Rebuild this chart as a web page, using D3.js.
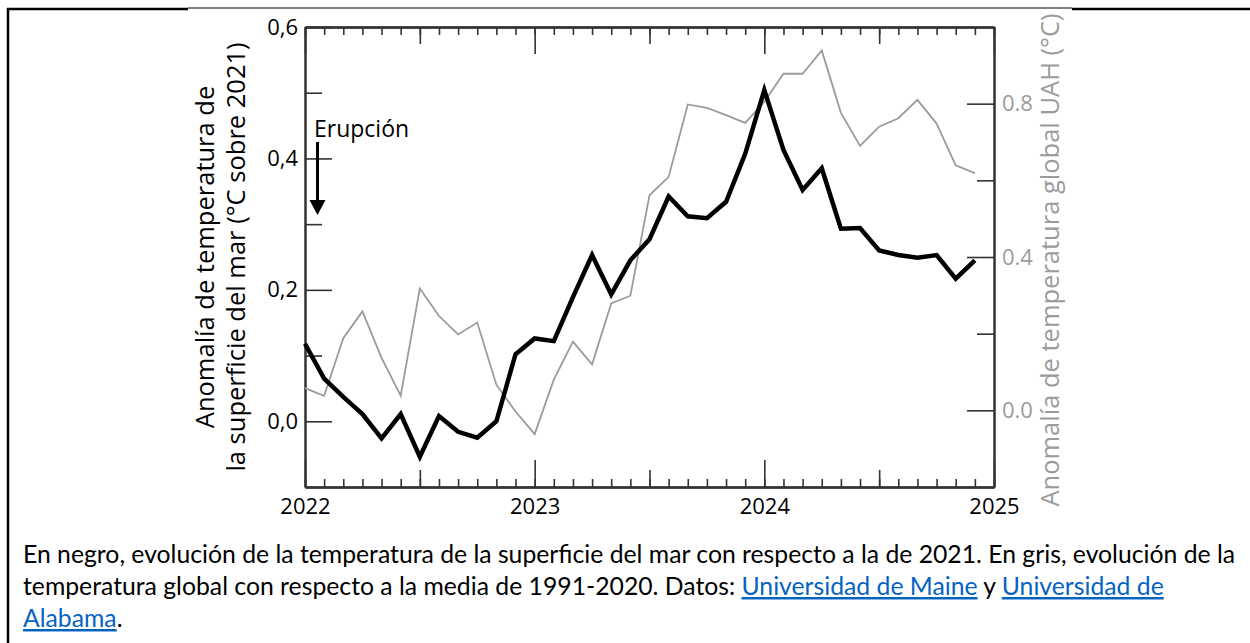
<!DOCTYPE html>
<html><head><meta charset="utf-8">
<script src="https://cdn.jsdelivr.net/npm/d3@7"></script>
<style>
html,body{margin:0;padding:0;background:#fff;}
svg{display:block;}
</style>
</head><body>
<svg id="chart" width="1250" height="643"></svg>
<script>
// ---- data ----
const months = ["2022-01","2022-02","2022-03","2022-04","2022-05","2022-06","2022-07","2022-08","2022-09","2022-10","2022-11","2022-12",
"2023-01","2023-02","2023-03","2023-04","2023-05","2023-06","2023-07","2023-08","2023-09","2023-10","2023-11","2023-12",
"2024-01","2024-02","2024-03","2024-04","2024-05","2024-06","2024-07","2024-08","2024-09","2024-10","2024-11","2024-12"];
const seaSurfaceAnomaly = [0.118,0.065,0.037,0.011,-0.026,0.011,-0.054,0.008,-0.016,-0.025,0.000,0.102,
0.126,0.122,0.189,0.253,0.193,0.245,0.277,0.342,0.312,0.309,0.334,0.407,
0.504,0.413,0.352,0.385,0.293,0.294,0.260,0.253,0.249,0.253,0.217,0.245];
const uahGlobalAnomaly = [0.058,0.038,0.188,0.258,0.137,0.038,0.318,0.246,0.198,0.229,0.067,-0.003,
-0.062,0.080,0.179,0.120,0.279,0.299,0.561,0.609,0.798,0.789,0.770,0.750,
0.805,0.878,0.878,0.939,0.776,0.690,0.740,0.762,0.810,0.748,0.639,0.619];
const yearTicks = [2022, 2023, 2024, 2025];
const leftMajorTicks = [0.0, 0.2, 0.4, 0.6];
const leftMinorTicks = [0.1, 0.3, 0.5];
const rightMajorTicks = [0.0, 0.4, 0.8];
const rightMinorTicks = [0.2, 0.6];
const eruptionLabel = "Erupción";
const leftTitle = ["Anomalía de temperatura de", "la superficie del mar (°C sobre 2021)"];
const rightTitle = "Anomalía de temperatura global UAH (°C)";
const captionLines = [
  [{t:"En negro, evolución de la temperatura de la superficie del mar con respecto a la de 2021. En gris, evolución de la"}],
  [{t:"temperatura global con respecto a la media de 1991-2020. Datos: "},{t:"Universidad de Maine",link:true},{t:" y "},{t:"Universidad de",link:true}],
  [{t:"Alabama",link:true},{t:"."}]
];

// ---- layout ----
const svg = d3.select("#chart");
const X0 = 305, X1 = 994, Y0 = 27, Y1 = 487;
const AX = "#333";
const GRAY = "#9b9b9b";
const chartFont = "'Open Sans', 'Noto Sans', sans-serif";

const toYear = s => { const [y,m] = s.split("-").map(Number); return y + (m-1)/12; };
const x = d3.scaleLinear().domain([2022, 2025]).range([X0, X1]);
const yL = d3.scaleLinear().domain([-0.1, 0.6]).range([Y1, Y0]);
const yR = d3.scaleLinear().domain([-0.2, 1.0]).range([Y1, Y0]);

// outer frame
svg.append("line").attr("x1",8).attr("x2",8).attr("y1",8).attr("y2",643).attr("stroke","#000").attr("stroke-width",2.5);
svg.append("line").attr("x1",7).attr("x2",188).attr("y1",9).attr("y2",9).attr("stroke","#000").attr("stroke-width",2.5);
svg.append("line").attr("x1",188).attr("x2",1072).attr("y1",8).attr("y2",8).attr("stroke","#000").attr("stroke-width",1.2);
svg.append("line").attr("x1",1072).attr("x2",1250).attr("y1",9).attr("y2",9).attr("stroke","#000").attr("stroke-width",2.5);

// month tick values
const monthTicks = d3.range(0, 37).map(i => 2022 + i/12);
const halfTicks = monthTicks.filter((v,i) => i % 12 === 6);

function styleAxis(g){
  g.selectAll("path.domain").attr("stroke", AX).attr("stroke-width", 2);
  g.selectAll(".tick line").attr("stroke", AX).attr("stroke-width", 1.6);
  g.selectAll("text").attr("font-family", chartFont).attr("font-size", 22).attr("fill", "#000");
}

// bottom axis
const gb = svg.append("g").attr("transform", `translate(0,${Y1})`);
gb.append("g").call(d3.axisBottom(x).tickValues(monthTicks).tickSize(-8).tickSizeOuter(0).tickFormat("")).call(styleAxis);
gb.append("g").call(d3.axisBottom(x).tickValues(halfTicks).tickSize(-17).tickSizeOuter(0).tickFormat("")).call(styleAxis);
gb.append("g").call(d3.axisBottom(x).tickValues(yearTicks).tickSize(-27).tickSizeOuter(0).tickPadding(11).tickFormat(d3.format("d"))).call(styleAxis);

// top axis
const gt = svg.append("g").attr("transform", `translate(0,${Y0})`);
gt.append("g").call(d3.axisTop(x).tickValues(monthTicks).tickSize(-8).tickSizeOuter(0).tickFormat("")).call(styleAxis);
gt.append("g").call(d3.axisTop(x).tickValues(halfTicks).tickSize(-17).tickSizeOuter(0).tickFormat("")).call(styleAxis);
gt.append("g").call(d3.axisTop(x).tickValues(yearTicks).tickSize(-27).tickSizeOuter(0).tickFormat("")).call(styleAxis);

// left axis
const commaFmt = v => d3.format(".1f")(v).replace(".", ",");
const gl = svg.append("g").attr("transform", `translate(${X0},0)`);
gl.append("g").call(d3.axisLeft(yL).tickValues(leftMinorTicks).tickSize(-17).tickSizeOuter(0).tickFormat("")).call(styleAxis);
gl.append("g").call(d3.axisLeft(yL).tickValues(leftMajorTicks).tickSize(-27).tickSizeOuter(0).tickPadding(7).tickFormat(commaFmt)).call(styleAxis);

// right axis
const gr = svg.append("g").attr("transform", `translate(${X1},0)`);
gr.append("g").call(d3.axisRight(yR).tickValues(rightMinorTicks).tickSize(-17).tickSizeOuter(0).tickFormat("")).call(styleAxis);
gr.append("g").call(d3.axisRight(yR).tickValues(rightMajorTicks).tickSize(-27).tickSizeOuter(0).tickPadding(8).tickFormat(d3.format(".1f"))).call(styleAxis);
gr.selectAll("text").attr("fill", GRAY);

// lines
const lineR = d3.line().x((d,i) => x(toYear(months[i]))).y(d => yR(d));
const lineL = d3.line().x((d,i) => x(toYear(months[i]))).y(d => yL(d));
svg.append("path").datum(uahGlobalAnomaly).attr("d", lineR).attr("fill","none").attr("stroke", GRAY).attr("stroke-width", 1.8).attr("stroke-linejoin","miter");
svg.append("path").datum(seaSurfaceAnomaly).attr("d", lineL).attr("fill","none").attr("stroke", "#000").attr("stroke-width", 4.5).attr("stroke-linejoin","miter");

// eruption annotation
svg.append("text").attr("x", 314).attr("y", 137).attr("font-family", chartFont).attr("font-size", 23).text(eruptionLabel);
svg.append("line").attr("x1", 317.5).attr("x2", 317.5).attr("y1", 142).attr("y2", 203).attr("stroke","#000").attr("stroke-width", 3);
svg.append("path").attr("d", "M309.5,200 L325.5,200 L317.5,215 Z").attr("fill","#000");

// axis titles
const lt = svg.append("text").attr("transform", `translate(214,${(Y0+Y1)/2}) rotate(-90)`)
  .attr("text-anchor","middle").attr("font-family", chartFont).attr("font-size", 25.5).attr("fill","#000");
lt.append("tspan").attr("x",0).attr("y",0).text(leftTitle[0]);
lt.append("tspan").attr("x",0).attr("y",31).text(leftTitle[1]);
svg.append("text").attr("transform", `translate(1059,${260}) rotate(-90)`)
  .attr("text-anchor","middle").attr("font-family", chartFont).attr("font-size", 25.5).attr("fill", GRAY).text(rightTitle);

// caption
const capFont = "Lato, 'Noto Sans', sans-serif";
const capBaselines = [563, 595, 627];
const cap = svg.append("g");
captionLines.forEach((line, li) => {
  const t = cap.append("text").attr("x", 23).attr("y", capBaselines[li]).attr("font-family", capFont).attr("font-size", 22).attr("fill","#000").attr("xml:space","preserve");
  line.forEach(seg => {
    const s = t.append("tspan").text(seg.t);
    if (seg.link) s.attr("fill", "#0563C1").style("text-decoration", "underline");
  });
});
// fit caption width to first line target
const first = cap.select("text").node();
const w = first.getComputedTextLength();
const target = 1236 - 23;
const fs = 22 * target / w;
cap.selectAll("text").attr("font-size", fs);
</script>
</body></html>
